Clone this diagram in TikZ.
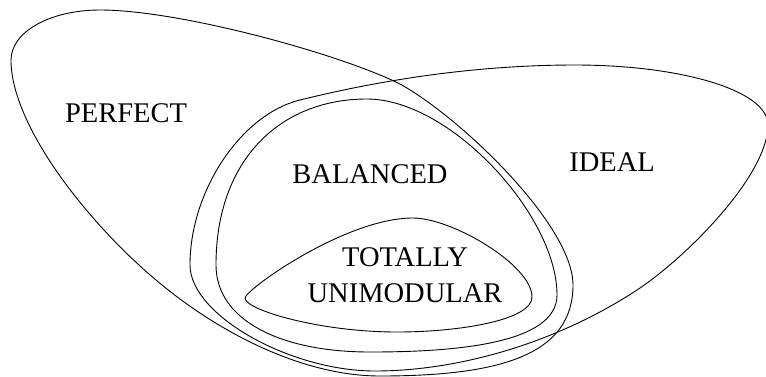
\documentclass[tikz,border=0pt]{standalone}
\usepackage{fontspec}
\setmainfont{Liberation Serif}
\begin{document}
\begin{tikzpicture}[x=1pt,y=-1pt,
  setline/.style={line width=0.9pt, black},
  lbl/.style={inner sep=0pt, font=\fontsize{28.5}{36}\selectfont, align=center}]
\useasboundingbox (0,0) rectangle (766,376);
% PERFECT
\draw[setline] (11,60) .. controls (11,32) and (50,10) .. (100,10)
  .. controls (180,10) and (340,54) .. (400,84)
  .. controls (460,117) and (573,225) .. (573,285)
  .. controls (573,355) and (500,376) .. (380,376)
  .. controls (300,376) and (215,330) .. (156,280)
  .. controls (87,222) and (11,125) .. cycle;
% IDEAL
\draw[setline] (190,265) .. controls (190,190) and (242,114) .. (300,100)
  .. controls (397,76) and (490,65) .. (575,65)
  .. controls (680,65) and (768,90) .. (768,125)
  .. controls (768,175) and (687,257) .. (637,290)
  .. controls (553,345) and (455,371) .. (375,371)
  .. controls (290,371) and (190,315) .. cycle;
% BALANCED
\draw[setline] (216,265) .. controls (216,160) and (280,99) .. (367,99)
  .. controls (450,99) and (557,215) .. (557,295)
  .. controls (557,345) and (450,352) .. (370,352)
  .. controls (280,352) and (216,320) .. cycle;
% TOTALLY UNIMODULAR
\draw[setline] (245,298) .. controls (245,290) and (345,218) .. (413,218)
  .. controls (452,218) and (532,265) .. (532,297)
  .. controls (532,320) and (460,332) .. (397,332)
  .. controls (320,332) and (245,310) .. cycle;
\node[lbl] (perfect) at (126,113) {PERFECT};
\node[lbl] (balanced) at (370,174) {BALANCED};
\node[lbl] (ideal) at (612,162) {IDEAL};
\node[lbl] (tu) at (405,275.5) {TOTALLY\\UNIMODULAR};
\end{tikzpicture}
\end{document}
